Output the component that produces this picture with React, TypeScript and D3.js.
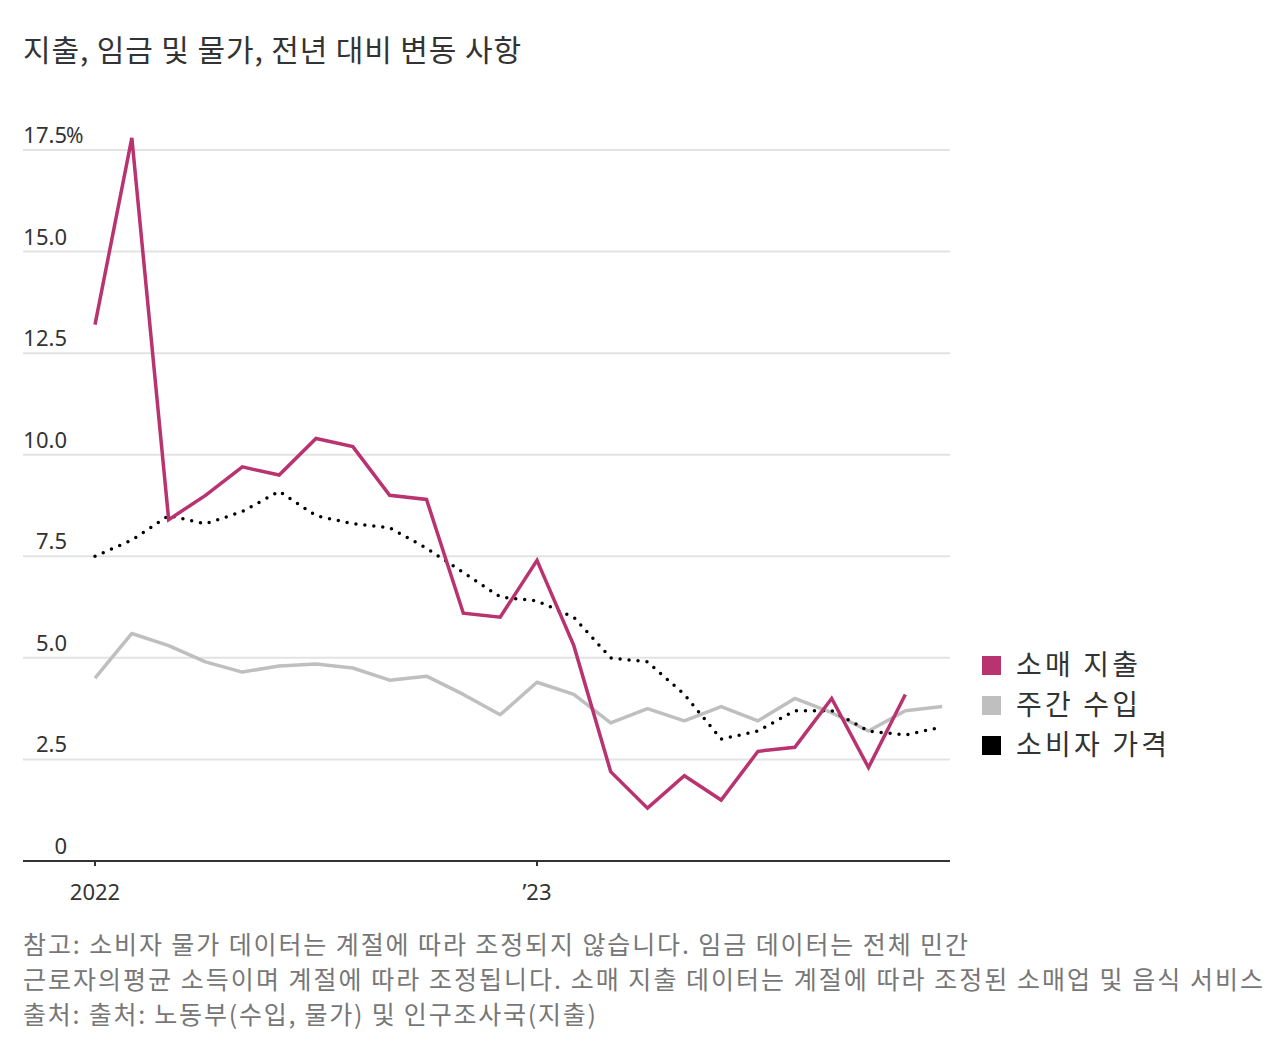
import React from 'react';
import * as d3 from 'd3';

// monthly, Jan 2022 onward
const months = [
  '2022-01', '2022-02', '2022-03', '2022-04', '2022-05', '2022-06',
  '2022-07', '2022-08', '2022-09', '2022-10', '2022-11', '2022-12',
  '2023-01', '2023-02', '2023-03', '2023-04', '2023-05', '2023-06',
  '2023-07', '2023-08', '2023-09', '2023-10', '2023-11', '2023-12',
];

const retailSpending = [
  13.2, 17.8, 8.4, 9.0, 9.7, 9.5, 10.4, 10.2, 9.0, 8.9, 6.1, 6.0,
  7.4, 5.3, 2.2, 1.3, 2.1, 1.5, 2.7, 2.8, 4.0, 2.3, 4.1,
];

const weeklyEarnings = [
  4.5, 5.6, 5.3, 4.9, 4.65, 4.8, 4.85, 4.75, 4.45, 4.55, 4.1, 3.6,
  4.4, 4.1, 3.4, 3.75, 3.45, 3.8, 3.45, 4.0, 3.65, 3.2, 3.7, 3.8,
];

const consumerPrices = [
  7.5, 7.9, 8.5, 8.3, 8.6, 9.1, 8.5, 8.3, 8.2, 7.7, 7.1, 6.5,
  6.4, 6.0, 5.0, 4.9, 4.1, 3.0, 3.2, 3.7, 3.7, 3.2, 3.1, 3.3,
];

const yTicks = [0, 2.5, 5, 7.5, 10, 12.5, 15, 17.5];
const xTicks = [
  { month: '2022-01', label: '2022' },
  { month: '2023-01', label: '’23' },
];

const legendItems = [
  { label: '소매 지출', color: '#b8336f', width: 122 },
  { label: '주간 수입', color: '#bfbfbf', width: 122 },
  { label: '소비자 가격', color: '#000000', width: 151 },
];

const title = '지출, 임금 및 물가, 전년 대비 변동 사항';
const notes = [
  { text: '참고: 소비자 물가 데이터는 계절에 따라 조정되지 않습니다. 임금 데이터는 전체 민간', width: 945 },
  { text: '근로자의평균 소득이며 계절에 따라 조정됩니다. 소매 지출 데이터는 계절에 따라 조정된 소매업 및 음식 서비스', width: 1240 },
  { text: '출처: 출처: 노동부(수입, 물가) 및 인구조사국(지출)', width: 573 },
];

const W = 1285;
const H = 1055;
const left = 23;
const right = 950;
const fontCJK = '"Noto Sans CJK KR", "Noto Sans", sans-serif';

const App: React.FC = () => {
  const x = d3.scaleLinear().domain([0, 12]).range([95, 537]);
  const y = d3.scaleLinear().domain([0, 17.5]).range([861, 150]);

  const line = d3.line<number>()
    .x((_, i) => x(i))
    .y(d => y(d));

  return (
    <div style={{ position: 'absolute', left: 0, top: 0 }}>
      <svg width={W} height={H} style={{ display: 'block', background: '#fff' }}>
        <text
          x={left}
          y={61}
          fontFamily={fontCJK}
          fontSize={30}
          fill="#333"
          textLength={498}
          lengthAdjust="spacing"
        >
          {title}
        </text>

        {/* grid + y labels */}
        {yTicks.map(t => (
          <g key={t}>
            {t > 0 && (
              <line x1={left} x2={right} y1={y(t)} y2={y(t)} stroke="#e3e3e3" strokeWidth={2} />
            )}
            <text
              x={67}
              y={y(t) - 7}
              textAnchor="end"
              fontFamily='"Noto Sans", sans-serif'
              fontSize={22}
              fill="#333"
            >
              {t === 0 ? '0' : t.toFixed(1)}
            </text>
            {t === 17.5 && (
              <text x={66} y={y(t) - 7} fontFamily='"Noto Sans", sans-serif' fontSize={21} fill="#333">
                %
              </text>
            )}
          </g>
        ))}

        {/* x axis */}
        <line x1={left} x2={right} y1={y(0)} y2={y(0)} stroke="#333" strokeWidth={2} />
        {xTicks.map(t => {
          const xi = x(months.indexOf(t.month));
          return (
            <g key={t.month}>
              <line x1={xi} x2={xi} y1={y(0)} y2={y(0) + 5} stroke="#333" strokeWidth={2} />
              <text
                x={xi}
                y={900}
                textAnchor="middle"
                fontFamily='"Noto Sans", sans-serif'
                fontSize={22}
                fill="#333"
              >
                {t.label}
              </text>
            </g>
          );
        })}

        {/* series */}
        <path d={line(weeklyEarnings) ?? ''} fill="none" stroke="#bfbfbf" strokeWidth={3.5} strokeLinejoin="round" />
        <path
          d={line(consumerPrices) ?? ''}
          fill="none"
          stroke="#000"
          strokeWidth={3.5}
          strokeLinecap="round"
          strokeDasharray="0 9"
        />
        <path d={line(retailSpending) ?? ''} fill="none" stroke="#b8336f" strokeWidth={3.5} strokeLinejoin="miter" />

        {/* legend */}
        {legendItems.map((d, i) => (
          <g key={d.label} transform={`translate(982, ${656 + i * 40})`}>
            <rect width={19} height={19} fill={d.color} />
            <text
              x={34}
              y={19}
              fontFamily={fontCJK}
              fontSize={28}
              fill="#333"
              textLength={d.width}
              lengthAdjust="spacing"
            >
              {d.label}
            </text>
          </g>
        ))}

        {/* notes */}
        {notes.map((n, i) => (
          <text
            key={i}
            x={left}
            y={954 + i * 35}
            fontFamily={fontCJK}
            fontSize={25}
            fill="#777"
            textLength={n.width}
            lengthAdjust="spacing"
          >
            {n.text}
          </text>
        ))}
      </svg>
    </div>
  );
};

export default App;
